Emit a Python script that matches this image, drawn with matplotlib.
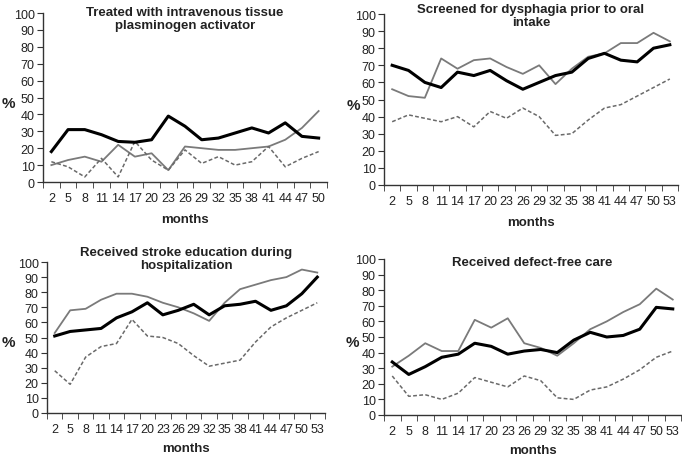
import numpy as np
import matplotlib
matplotlib.use("Agg")
import matplotlib.pyplot as plt

plt.rcParams['font.family'] = ['Liberation Sans', 'DejaVu Sans']

months_50 = [2, 5, 8, 11, 14, 17, 20, 23, 26, 29, 32, 35, 38, 41, 44, 47, 50]
months_53 = months_50 + [53]

# panel 1: tPA
tpa_black = [18, 31, 31, 28, 24, 23.5, 25, 39, 33, 25, 26, 29, 32, 29, 35, 27, 26]
tpa_gray = [10, 13, 15, 12, 22, 15, 17, 7, 21, 20, 19, 19, 20, 21, 25, 32, 42]
tpa_dash = [12, 9, 3, 14, 3, 24, 13, 7, 19, 11, 15, 10, 12, 21, 9, 14, 18]

# panel 2: dysphagia screening
dys_black = [70, 67, 60, 57, 66, 64, 67, 61, 56, 60, 64, 66, 74, 77, 73, 72, 80, 82]
dys_gray = [56, 52, 51, 74, 68, 73, 74, 69, 65, 70, 59, 68, 75, 77, 83, 83, 89, 84]
dys_dash = [37, 41, 39, 37, 40, 34, 43, 39, 45, 40, 29, 30, 38, 45, 47, 52, 57, 62]

# panel 3: stroke education
edu_black = [51, 54, 55, 56, 63, 67, 73, 65, 68, 72, 65, 71, 72, 74, 68, 71, 79, 90]
edu_gray = [53, 68, 69, 75, 79, 79, 77, 73, 70, 66, 61, 73, 82, 85, 88, 90, 95, 93]
edu_dash = [28, 19, 37, 44, 46, 62, 51, 50, 46, 38, 31, 33, 35, 47, 57, 63, 68, 73]

# panel 4: defect-free care
dfc_black = [34, 26, 31, 37, 39, 46, 44, 39, 41, 42, 40, 48, 53, 50, 51, 55, 69, 68]
dfc_gray = [31, 38, 46, 41, 41, 61, 56, 62, 46, 43, 38, 46, 55, 60, 66, 71, 81, 74]
dfc_dash = [25, 12, 13, 10, 14, 24, 21, 18, 25, 22, 11, 10, 16, 18, 23, 29, 37, 41]

W, H = 682, 456
fig = plt.figure(figsize=(W / 100, H / 100), dpi=100)
txt = '#222222'


def panel(rect, title, months, black, gray, dash, title_y=1.0,
          pct_x=7, xlab_pad=7):
    l, t, r, b = rect
    ax = fig.add_axes([l / W, 1 - b / H, (r - l) / W, (b - t) / H])
    x = np.arange(len(months))
    ax.plot(x, gray, color='#7a7a7a', lw=1.3)
    ax.plot(x, dash, color='#6a6a6a', lw=1.1, ls=(0, (2.5, 1.5)))
    ax.plot(x, black, color='black', lw=2.2)
    ax.set_xlim(-0.5, len(months) - 0.5)
    ax.set_ylim(0, 100)
    ax.set_yticks(range(0, 101, 10))
    ax.set_xticks(x)
    ax.set_xticklabels([str(m) for m in months])
    ax.set_xticks(np.arange(len(months) + 1) - 0.5, minor=True)
    ax.tick_params(axis='x', which='major', length=0, pad=7,
                   labelsize=9, labelcolor=txt)
    ax.tick_params(axis='x', which='minor', length=4, direction='out',
                   color='#333333')
    ax.tick_params(axis='y', length=4, direction='out', labelsize=9,
                   labelcolor=txt, color='#333333', pad=2)
    for s in ('top', 'right'):
        ax.spines[s].set_visible(False)
    for s in ('left', 'bottom'):
        ax.spines[s].set_color('#333333')
        ax.spines[s].set_linewidth(1.0)
    ax.set_xlabel('months', fontsize=9.5, fontweight='bold', color=txt,
                  labelpad=xlab_pad)
    ax.set_ylabel('%', fontsize=11, fontweight='bold', color=txt,
                  rotation=0, va='center', ha='center')
    ax.yaxis.set_label_coords((pct_x - l) / (r - l), 0.47)
    ax.set_title(title, fontsize=9.5, fontweight='bold', color=txt,
                 y=title_y, pad=0, linespacing=1.1)
    return ax


panel((43, 14, 327, 183),
      'Treated with intravenous tissue\nplasminogen activator',
      months_50, tpa_black, tpa_gray, tpa_dash, title_y=0.91, pct_x=8)
panel((384, 15, 678, 186),
      'Screened for dysphagia prior to oral\nintake',
      months_53, dys_black, dys_gray, dys_dash, title_y=0.935, pct_x=353)
panel((47, 263, 325, 414),
      'Received stroke education during\nhospitalization',
      months_53, edu_black, edu_gray, edu_dash, title_y=0.96, pct_x=8,
      xlab_pad=5)
panel((384, 260, 681, 416),
      'Received defect-free care',
      months_53, dfc_black, dfc_gray, dfc_dash, title_y=0.96, pct_x=352,
      xlab_pad=5)

fig.savefig('out.png', dpi=100)
